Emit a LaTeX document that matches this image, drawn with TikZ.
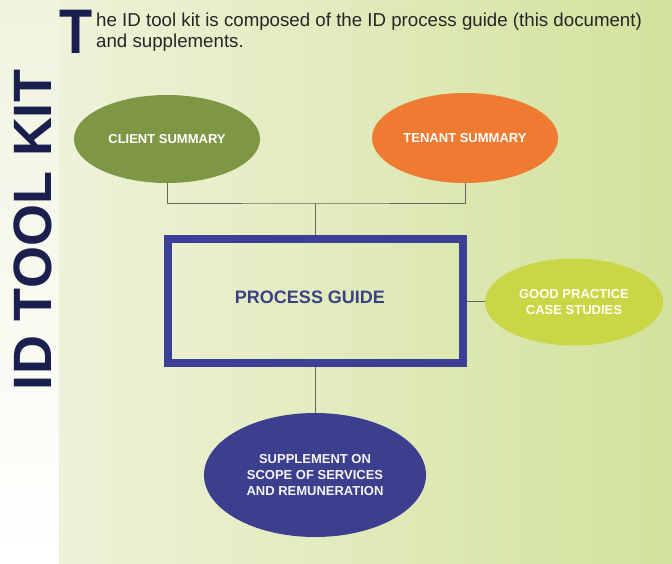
\documentclass[tikz,border=0pt]{standalone}
\usepackage{fontspec}
\setmainfont{Liberation Sans}
\usetikzlibrary{shapes.geometric}
\definecolor{navy}{HTML}{1B1F4E}
\definecolor{clientc}{HTML}{7E9745}
\definecolor{tenantc}{HTML}{EF7A31}
\definecolor{goodc}{HTML}{C9D645}
\definecolor{suppc}{HTML}{3C3F8E}
\definecolor{boxc}{HTML}{3B3F95}
\definecolor{guidetxt}{HTML}{3B4282}
\definecolor{connc}{HTML}{666666}
\definecolor{panelL}{HTML}{EFF2D9}
\definecolor{panelR}{HTML}{D2E29C}
\definecolor{stripT}{HTML}{F1F3DF}
\begin{document}
\begin{tikzpicture}[x=1pt,y=-1pt,
  blob/.style={ellipse,inner sep=0pt,text=white,align=center,
    font=\fontsize{13}{16}\selectfont\bfseries},
  conn/.style={draw=connc,line width=1pt},
  guidebox/.style={rectangle,draw=boxc,line width=8pt,inner sep=0pt}]
\useasboundingbox (0,0) rectangle (672,563);
% backgrounds
\shade[top color=stripT,bottom color=white] (0,0) rectangle (59,563);
\shade[left color=panelL,right color=panelR] (59,0) rectangle (672,563);
% drop cap and intro text
\node[anchor=base west,inner sep=0pt,text=navy,xscale=0.86,
  font=\fontsize{63}{63}\selectfont\bfseries] (dropT) at (59,53) {T};
\node[anchor=base west,inner sep=0pt,align=left,
  font=\fontsize{18.7}{21}\selectfont,text=black!85] (intro) at (96,47)
  {he ID tool kit is composed of the ID process guide (this document)\\and supplements.};
% vertical title
\node[rotate=90,inner sep=0pt,text=navy,
  font=\fontsize{54}{54}\selectfont\bfseries] (title) at (33,230) {ID TOOL KIT};
% nodes
\node[blob,fill=clientc,minimum width=186,minimum height=88] (client) at (167,139) {CLIENT SUMMARY};
\node[blob,fill=tenantc,minimum width=186,minimum height=90] (tenant) at (465,138) {TENANT SUMMARY};
\node[guidebox,minimum width=295,minimum height=124] (guide) at (315,301) {};
\node[text=guidetxt,font=\fontsize{18}{21}\selectfont\bfseries,inner sep=0pt]
  (guidelabel) at (310,297) {PROCESS GUIDE};
\node[blob,fill=goodc,text=white!95!yellow,minimum width=178,minimum height=87] (good) at (574,302)
  {GOOD PRACTICE\\CASE STUDIES};
\node[blob,fill=suppc,text=white!92!gray,minimum width=222,minimum height=124] (supp) at (315,475)
  {SUPPLEMENT ON\\SCOPE OF SERVICES\\AND REMUNERATION};
% connectors
\coordinate (j) at (315,203);
\draw[conn] (client.south) |- (j) -| (tenant.south);
\draw[conn] (j) -- (guide.north);
\draw[conn] (guide.east) -- (good.west |- guide.east);
\draw[conn] (guide.south) -- (supp.north);
\end{tikzpicture}
\end{document}
